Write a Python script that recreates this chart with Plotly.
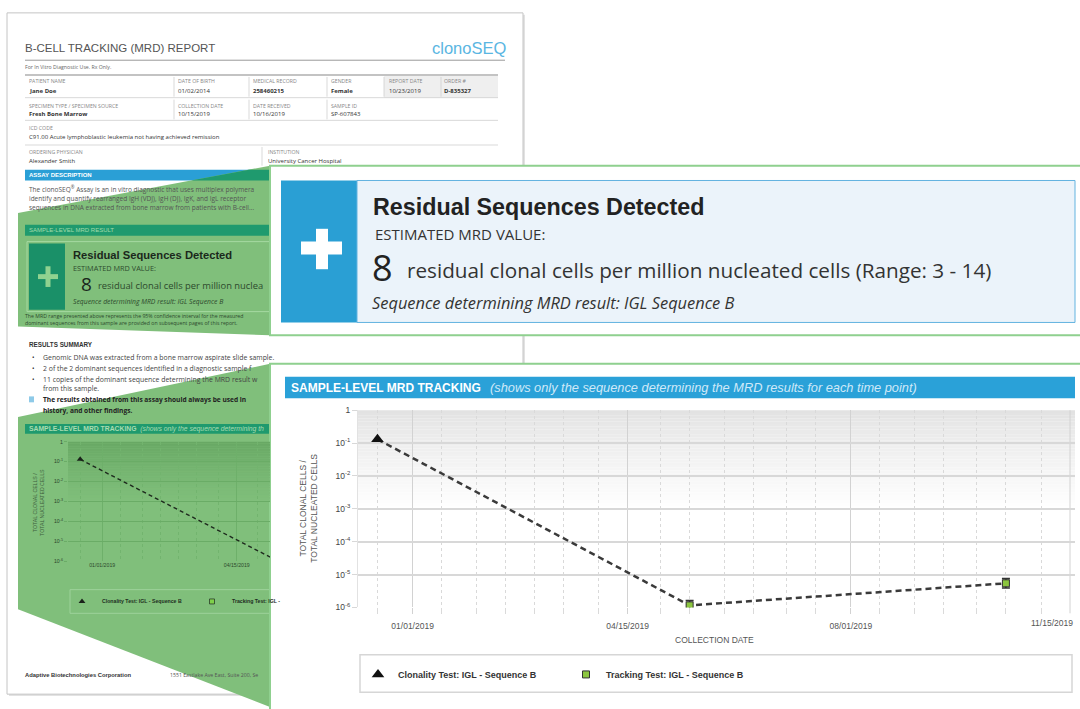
import plotly.graph_objects as go
import pandas as pd

# ------------------------------------------------------------------ data
clonality_name = "Clonality Test: IGL - Sequence B"
tracking_name = "Tracking Test: IGL - Sequence B"
clonality_dates = ["2018-12-15"]
clonality_values = [0.13]
tracking_dates = ["2019-05-15", "2019-10-15"]
tracking_values = [1.15e-6, 5.4e-6]
tracking_err_plus = [0.45e-6, 2.1e-6]
tracking_err_minus = [0.32e-6, 1.5e-6]
x_tick_dates = ["2019-01-01", "2019-04-15", "2019-08-01", "2019-11-15"]
x_tick_labels = ["01/01/2019", "04/15/2019", "08/01/2019", "11/15/2019"]
y_tick_values = [1e-6, 1e-5, 1e-4, 1e-3, 1e-2, 1e-1, 1]
y_tick_labels = ["10<sup>-6</sup>", "10<sup>-5</sup>", "10<sup>-4</sup>", "10<sup>-3</sup>",
                 "10<sup>-2</sup>", "10<sup>-1</sup>", "1"]

# minor (semi-monthly) grid dates
minor_dates = []
for m in pd.date_range("2018-12-01", "2019-11-01", freq="MS"):
    for d in (m, m + pd.Timedelta(days=14)):
        s = d.strftime("%Y-%m-%d")
        if s not in x_tick_dates:
            minor_dates.append(s)

# ------------------------------------------------------------------ helpers
W, H = 1080, 709
def X(p): return p / W
def Y(p): return 1 - p / H

shapes, annots = [], []
CLEAR = "rgba(0,0,0,0)"

def rect(x0, y0, x1, y1, fill, line=None, lw=0):
    shapes.append(dict(type="rect", xref="paper", yref="paper", x0=X(x0), x1=X(x1),
                       y0=Y(y1), y1=Y(y0), fillcolor=fill, layer="below",
                       line=dict(width=lw, color=line or CLEAR)))

def seg(x0, y0, x1, y1, color, w=1):
    shapes.append(dict(type="line", xref="paper", yref="paper", x0=X(x0), y0=Y(y0),
                       x1=X(x1), y1=Y(y1), line=dict(color=color, width=w), layer="below"))

def poly(pts, fill):
    path = "M " + " L ".join(f"{X(a):.5f},{Y(b):.5f}" for a, b in pts) + " Z"
    shapes.append(dict(type="path", xref="paper", yref="paper", path=path, fillcolor=fill,
                       line=dict(width=0, color=CLEAR), layer="below"))

def txt(x, y, s, size, color="#333", family="Open Sans", weight="normal", style="normal",
        xanchor="left", yanchor="middle", angle=0):
    annots.append(dict(x=X(x), y=Y(y), xref="paper", yref="paper", text=s, showarrow=False,
                       xanchor=xanchor, yanchor=yanchor, textangle=angle, borderpad=0,
                       borderwidth=0, align="center",
                       font=dict(size=size, color=color, family=family, weight=weight, style=style)))

GREEN = "#80bf7b"
TEAL = "#1f9a6e"

# ------------------------------------------------------------------ document page
rect(9, 10, 525, 701, "#e2e2e2")
rect(7, 8, 523, 699, "white", "#c4c4c4", 1)
txt(25, 44, "B-CELL TRACKING (MRD) REPORT", 11.5, "#555", "Liberation Sans")
txt(506, 44, "clonoSEQ", 16.5, "#5ab6e2", "Liberation Sans", xanchor="right")
seg(25, 56, 505, 56, "#9a9a9a", 1)
txt(25, 63, "For In Vitro Diagnostic Use. Rx Only.", 5.2, "#666")
seg(25, 71, 498, 71, "#888", 1.2)
rect(384, 72, 498, 94, "#efefef")
for yy in (94, 117, 142):
    seg(25, yy, 498, yy, "#cfcfcf", 0.8)
for xx in (174, 249, 327, 384, 441):
    seg(xx, 73, xx, 93, "#cfcfcf", 0.8)
for xx in (174, 249, 327):
    seg(xx, 96, xx, 116, "#cfcfcf", 0.8)
seg(262, 144, 262, 163, "#cfcfcf", 0.8)

LBL = dict(size=5.2, color="#888")
cols1 = [29, 178, 253, 331, 389, 444]
for xx, s in zip(cols1, ["PATIENT NAME", "DATE OF BIRTH", "MEDICAL RECORD", "GENDER",
                         "REPORT DATE", "ORDER #"]):
    txt(xx, 77, s, **LBL)
for xx, s in zip(cols1, ["<b>Jane Doe</b>", "01/02/2014", "<b>258460215</b>", "<b>Female</b>",
                         "10/23/2019", "<b>D-835327</b>"]):
    txt(xx, 87, s, 6, "#333")
for xx, s in zip(cols1[:4], ["SPECIMEN TYPE / SPECIMEN SOURCE", "COLLECTION DATE",
                             "DATE RECEIVED", "SAMPLE ID"]):
    txt(xx, 102, s, **LBL)
for xx, s in zip(cols1[:4], ["<b>Fresh Bone Marrow</b>", "10/15/2019", "10/16/2019", "SP-607843"]):
    txt(xx, 111, s, 6, "#333")
txt(29, 125, "ICD CODE", **LBL)
txt(29, 134, "C91.00 Acute lymphoblastic leukemia not having achieved remission", 6, "#333")
txt(29, 149, "ORDERING PHYSICIAN", **LBL)
txt(29, 158, "Alexander Smith", 6, "#333")
txt(268, 149, "INSTITUTION", **LBL)
txt(268, 158, "University Cancer Hospital", 6, "#333")

rect(25, 167, 270, 178, "#2a9fd6")
txt(29, 172.5, "ASSAY DESCRIPTION", 6, "white", "Liberation Sans", "bold")
txt(29, 187, "The clonoSEQ<sup>®</sup> Assay is an in vitro diagnostic that uses multiplex polymera", 6.5, "#555")
txt(29, 196, "identify and quantify rearranged IgH (VDJ), IgH (DJ), IgK, and IgL receptor", 6.5, "#555")
txt(29, 205, "sequences in DNA extracted from bone marrow from patients with B-cell...", 6.5, "#555")

# first green lens
poly([(18, 211), (270, 163), (270, 335), (18, 326)], GREEN)
poly([(191, 178), (249, 167), (270, 167), (270, 178)], TEAL)
rect(25, 223, 270, 234, TEAL)
txt(29, 228.5, "SAMPLE-LEVEL MRD RESULT", 6, "#a3dbaa", "Liberation Sans")
rect(27, 240, 275, 311, CLEAR, "#a6d9a2", 1)
rect(29, 242, 65, 309, "#1a9068")
rect(38, 273, 58, 278, "#90d290")
rect(45.5, 265, 50.5, 286, "#90d290")
txt(73, 254, "Residual Sequences Detected", 11.2, "#1b281b", "Liberation Sans", "bold")
txt(73, 267, "ESTIMATED MRD VALUE:", 7.3, "#2d4a2d")
txt(81, 283, "8", 19, "#1b281b")
txt(98, 285, "residual clonal cells per million nuclea", 9.4, "#2d4a2d")
txt(73, 301, "Sequence determining MRD result: IGL Sequence B", 6.8, "#2d4a2d", style="italic")
txt(25, 315, "The MRD range presented above represents the 95% confidence interval for the measured", 5.2, "#2d4a2d")
txt(25, 323, "dominant sequences from this sample are provided on subsequent pages of this report.", 5.2, "#2d4a2d")

# results summary
txt(29, 344, "RESULTS SUMMARY", 6.3, "#333", "Liberation Sans", "bold")
for yy in (358, 369, 380):
    txt(32, yy, "•", 6.5, "#333")
txt(43, 358, "Genomic DNA was extracted from a bone marrow aspirate slide sample.", 6.9, "#444")
txt(43, 369, "2 of the 2 dominant sequences identified in a diagnostic sample f", 6.9, "#444")
txt(43, 380, "11 copies of the dominant sequence determining the MRD result w", 6.9, "#444")
txt(43, 389, "from this sample.", 6.9, "#444")

# second green lens
poly([(18, 418), (270, 364), (270, 712), (18, 613)], GREEN)
rect(29, 397, 34, 403, "#8ecae8")
txt(43, 400, "<b>The results obtained from this assay should always be used in</b>", 6.6, "#222")
txt(43, 411, "<b>history, and other findings.</b>", 6.6, "#222")
rect(25, 425, 270, 435, TEAL)
txt(29, 430, "<b>SAMPLE-LEVEL MRD TRACKING</b>  <i>(shows only the sequence determining th</i>",
    6.8, "#a8dcb0", "Liberation Sans")
rect(70, 593, 280, 617, CLEAR, "#9dd29b", 1)
txt(39, 504, "TOTAL CLONAL CELLS /<br>TOTAL NUCLEATED CELLS", 5.2, "#3d5d3d", "Liberation Sans",
    xanchor="center", angle=-90)
txt(25, 680, "<b>Adaptive Biotechnologies Corporation</b>", 5.8, "#333", "Liberation Sans")
txt(170, 680, "1551 Eastlake Ave East, Suite 200, Se", 5.2, "#555")

# ------------------------------------------------------------------ zoom panels
rect(270, 163, 1086, 335, "white", "#8fd08f", 2)
rect(270, 364, 1086, 716, "white", "#8fd08f", 2)

rect(281, 178, 357, 322, "#2a9fd4")
rect(357, 178, 1075, 322, "#ebf3fa", "#63b3e0", 1)
rect(301, 240, 342, 253, "white")
rect(316, 227, 328, 268, "white")
txt(373, 205, "Residual Sequences Detected", 23.3, "#222", "Liberation Sans", "bold")
txt(375, 232, "ESTIMATED MRD VALUE:", 15, "#333")
txt(372, 266, "8", 36, "#222")
txt(407, 269, "residual clonal cells per million nucleated cells (Range: 3 - 14)", 20.7, "#333")
txt(372, 302, "Sequence determining MRD result: IGL Sequence B", 16.4, "#333", style="italic")

rect(285, 377, 1075, 399, "#2aa1d8")
txt(291, 388, "<b>SAMPLE-LEVEL MRD TRACKING</b>", 12, "white", "Liberation Sans")
txt(490, 388, "<i>(shows only the sequence determining the MRD results for each time point)</i>",
    12.8, "#cfe9f8", "Liberation Sans")
rect(360, 659, 1072, 697, "white", "#d6d6d6", 1.5)

# axis titles / last tick label (main chart)
txt(309, 511, "TOTAL CLONAL CELLS /<br>TOTAL NUCLEATED CELLS", 8.5, "#555", "Liberation Sans",
    xanchor="center", angle=-90)
txt(714, 644, "COLLECTION DATE", 8.5, "#555", "Liberation Sans", xanchor="center")
annots.append(dict(x=x_tick_dates[-1], xref="x", y=Y(627), yref="paper", text=x_tick_labels[-1],
                   showarrow=False, xanchor="right", yanchor="middle", xshift=5,
                   font=dict(size=8.5, color="#555", family="Liberation Sans")))

# plot-area gradients
N = 36
for i in range(N):
    t0, t1 = 1 - 0.5 * i / N, 1 - 0.5 * (i + 1) / N
    f = (i / (N - 1)) ** 0.8
    g = int(226 + (255 - 226) * f)
    shapes.append(dict(type="rect", xref="x domain", yref="y domain", x0=0, x1=1, y0=t1, y1=t0,
                       fillcolor=f"rgb({g},{g},{g})", line=dict(width=0), layer="below"))
    r = int(104 + (128 - 104) * f); gg = int(168 + (191 - 168) * f); b = int(100 + (123 - 100) * f)
    shapes.append(dict(type="rect", xref="x2 domain", yref="y2 domain", x0=0, x1=1, y0=t1, y1=t0,
                       fillcolor=f"rgb({r},{gg},{b})", line=dict(width=0), layer="below"))
# gridline + tick for the last major date (its label is placed as an annotation above)
shapes.append(dict(type="line", xref="x", yref="y domain", x0=x_tick_dates[-1], x1=x_tick_dates[-1],
                   y0=-0.03, y1=1, line=dict(color="#d2d2d2", width=1), layer="below"))

# ------------------------------------------------------------------ traces
fig = go.Figure()
all_dates = clonality_dates + tracking_dates
all_vals = clonality_values + tracking_values

fig.add_trace(go.Scatter(x=all_dates, y=all_vals, mode="lines", showlegend=False,
                         line=dict(color="#3a3a3a", width=2.5, dash="6px,4px"), hoverinfo="skip"))
fig.add_trace(go.Scatter(x=clonality_dates, y=clonality_values, mode="markers", name=clonality_name,
                         marker=dict(symbol="triangle-up", size=11, color="#111"), legend="legend"))
fig.add_trace(go.Scatter(x=tracking_dates, y=tracking_values, mode="markers", name=tracking_name,
                         marker=dict(symbol="square", size=7, color="#8cc63f",
                                     line=dict(color="#333", width=1)),
                         error_y=dict(type="data", array=tracking_err_plus,
                                      arrayminus=tracking_err_minus, color="#333",
                                      thickness=1.6, width=4),
                         legend="legend"))

fig.add_trace(go.Scatter(x=all_dates, y=all_vals, mode="lines", showlegend=False, xaxis="x2", yaxis="y2",
                         line=dict(color="#1e2a1e", width=1.4, dash="4px,3px"), hoverinfo="skip"))
fig.add_trace(go.Scatter(x=clonality_dates, y=clonality_values, mode="markers", name=clonality_name,
                         xaxis="x2", yaxis="y2", legend="legend2",
                         marker=dict(symbol="triangle-up", size=6, color="#1a221a")))
fig.add_trace(go.Scatter(x=tracking_dates, y=tracking_values, mode="markers",
                         name="Tracking Test: IGL -", xaxis="x2", yaxis="y2", legend="legend2",
                         marker=dict(symbol="square", size=5, color="#7fd04a",
                                     line=dict(color="#2a3a2a", width=0.8))))

# ------------------------------------------------------------------ layout
main_x_range = ["2018-12-05 14:00", "2019-11-17 10:00"]
small_x_range = ["2018-12-05 14:00", "2019-05-10 17:00"]

fig.update_layout(
    width=W, height=H, autosize=False, margin=dict(l=0, r=0, t=0, b=0),
    paper_bgcolor="white", plot_bgcolor=CLEAR,
    font=dict(family="Liberation Sans", color="#444"),
    shapes=shapes, annotations=annots, hovermode=False,
    xaxis=dict(domain=[X(358), X(1075)], range=main_x_range, type="date", anchor="y",
               tickmode="array", tickvals=x_tick_dates[:-1], ticktext=x_tick_labels[:-1],
               showgrid=True, gridcolor="#d2d2d2", gridwidth=1, ticks="outside", ticklen=6,
               tickcolor="#d2d2d2", tickfont=dict(size=8.5, color="#555"), zeroline=False,
               showline=False, ticklabelstandoff=4,
               minor=dict(tickvals=minor_dates, showgrid=True, gridcolor="#d9d9d9", griddash="dot",
                          gridwidth=1, ticks="outside", ticklen=6, tickcolor="#dadada")),
    yaxis=dict(domain=[Y(611), Y(411)], type="log", range=[-6, 0], anchor="x",
               tickmode="array", tickvals=y_tick_values, ticktext=y_tick_labels,
               showgrid=True, gridcolor="#d8d8d8", gridwidth=2, ticks="outside", ticklen=5,
               tickcolor="#d8d8d8", tickfont=dict(size=8.5, color="#444"), zeroline=False,
               showline=True, linecolor="#e2e2e2", linewidth=1),
    xaxis2=dict(domain=[X(68), X(270)], range=small_x_range, type="date", anchor="y2",
                tickmode="array", tickvals=x_tick_dates[:2], ticktext=x_tick_labels[:2],
                showgrid=True, gridcolor="#6eb06a", gridwidth=1, ticks="", zeroline=False,
                tickfont=dict(size=5.2, color="#2d4a2d"),
                minor=dict(tickvals=minor_dates, showgrid=True, gridcolor="#72b46e", griddash="dot",
                           gridwidth=1)),
    yaxis2=dict(domain=[Y(564), Y(443)], type="log", range=[-6, 0], anchor="x2",
                tickmode="array", tickvals=y_tick_values, ticktext=y_tick_labels,
                showgrid=True, gridcolor="#6aac66", gridwidth=1.2, ticks="outside", ticklen=3,
                tickcolor="#6aac66", tickfont=dict(size=5.2, color="#2d4a2d"), zeroline=False),
    legend=dict(orientation="h", x=X(358), y=Y(679), xanchor="left", yanchor="middle",
                bgcolor=CLEAR, borderwidth=0, entrywidth=163, entrywidthmode="pixels",
                font=dict(size=9, color="#333", family="Liberation Sans", weight="bold")),
    legend2=dict(orientation="h", x=X(62), y=Y(605), xanchor="left", yanchor="middle",
                 bgcolor=CLEAR, borderwidth=0, entrywidth=85, entrywidthmode="pixels",
                 font=dict(size=5.2, color="#1e2e1e", family="Liberation Sans", weight="bold")),
)

fig.write_html("out.html", config={"displayModeBar": False},
               post_script="document.body.style.margin='0';document.body.style.overflow='hidden';")
